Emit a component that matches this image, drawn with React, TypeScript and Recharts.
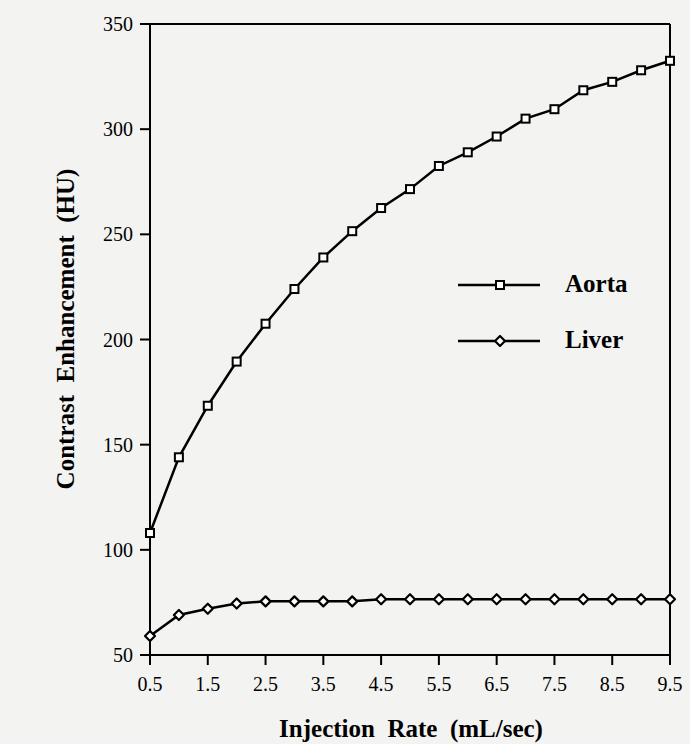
import { LineChart, Line, XAxis, YAxis, Legend, ReferenceLine, Label } from 'recharts'

const rates = [0.5, 1, 1.5, 2, 2.5, 3, 3.5, 4, 4.5, 5, 5.5, 6, 6.5, 7, 7.5, 8, 8.5, 9, 9.5]
const aorta = [108, 144, 168.5, 189.5, 207.5, 224, 239, 251.5, 262.5, 271.5, 282.5, 289, 296.5, 305, 309.5, 318.5, 322.5, 328, 332.5]
const liver = [59, 69, 72, 74.5, 75.5, 75.5, 75.5, 75.5, 76.5, 76.5, 76.5, 76.5, 76.5, 76.5, 76.5, 76.5, 76.5, 76.5, 76.5]

const xTicks = [0.5, 1.5, 2.5, 3.5, 4.5, 5.5, 6.5, 7.5, 8.5, 9.5]
const yTicks = [50, 100, 150, 200, 250, 300, 350]

const data = rates.map((r, i) => ({ rate: r, aorta: aorta[i], liver: liver[i] }))

const font = '"Liberation Serif", "Times New Roman", serif'

const Square = (props: any) => {
    const { cx, cy } = props
    if (cx == null || cy == null) return null
    return <rect x={cx - 4} y={cy - 4} width={8} height={8} fill="#fff" stroke="#000" strokeWidth={2} />
}

const Diamond = (props: any) => {
    const { cx, cy } = props
    if (cx == null || cy == null) return null
    return (
        <polygon
            points={`${cx},${cy - 5} ${cx + 5},${cy} ${cx},${cy + 5} ${cx - 5},${cy}`}
            fill="#fff"
            stroke="#000"
            strokeWidth={2.2}
            strokeLinejoin="round"
        />
    )
}

const XTick = (props: any) => {
    const { x, y, payload } = props
    return (
        <text x={x} y={y + 14} textAnchor="middle" fontFamily={font} fontSize={20} fill="#000">
            {payload.value}
        </text>
    )
}

const YTick = (props: any) => {
    const { x, y, payload } = props
    return (
        <text x={x} y={y + 7} textAnchor="end" fontFamily={font} fontSize={20} fill="#000">
            {payload.value}
        </text>
    )
}

const LegendBox = () => (
    <svg width={200} height={100} style={{ overflow: 'visible' }}>
        <line x1={8} x2={90} y1={25} y2={25} stroke="#000" strokeWidth={2.5} />
        <Square cx={50} cy={25} />
        <text x={115} y={32} fontFamily={font} fontWeight="bold" fontSize={25} fill="#000">Aorta</text>
        <line x1={8} x2={90} y1={81} y2={81} stroke="#000" strokeWidth={2.5} />
        <Diamond cx={50} cy={81} />
        <text x={115} y={88} fontFamily={font} fontWeight="bold" fontSize={25} fill="#000">Liver</text>
    </svg>
)

export default function App() {
    return (
        <div style={{ position: 'absolute', left: 0, top: 0, width: 690, height: 744, background: '#f3f3f1' }}>
            <LineChart width={690} height={744} data={data} margin={{ top: 24, right: 20, left: 0, bottom: 0 }}>
                <XAxis
                    dataKey="rate"
                    type="number"
                    domain={[0.5, 9.5]}
                    ticks={xTicks}
                    height={89}
                    stroke="#000"
                    strokeWidth={2}
                    tickSize={10}
                    tickMargin={12}
                    tick={<XTick />}
                >
                    <Label
                        content={() => (
                            <text x={411} y={737} textAnchor="middle" fontFamily={font} fontWeight="bold" fontSize={25} fill="#000">
                                Injection&#160; Rate&#160; (mL/sec)
                            </text>
                        )}
                    />
                </XAxis>
                <YAxis
                    type="number"
                    domain={[50, 350]}
                    ticks={yTicks}
                    width={150}
                    stroke="#000"
                    strokeWidth={2}
                    tickSize={10}
                    tickMargin={7}
                    tick={<YTick />}
                >
                    <Label
                        content={() => (
                            <text x={74} y={329} transform="rotate(-90 74 329)" textAnchor="middle" fontFamily={font} fontWeight="bold" fontSize={25} fill="#000">
                                Contrast&#160; Enhancement&#160; (HU)
                            </text>
                        )}
                    />
                </YAxis>
                <ReferenceLine y={350} stroke="#000" strokeWidth={2} />
                <ReferenceLine x={9.5} stroke="#000" strokeWidth={2} />
                <Legend
                    layout="horizontal"
                    verticalAlign="middle"
                    align="center"
                    wrapperStyle={{ left: 450, top: 260, width: 200 }}
                    content={() => <LegendBox />}
                />
                <Line dataKey="aorta" stroke="#000" strokeWidth={2.5} dot={<Square />} activeDot={false} isAnimationActive={false} />
                <Line dataKey="liver" stroke="#000" strokeWidth={2.5} dot={<Diamond />} activeDot={false} isAnimationActive={false} />
            </LineChart>
        </div>
    )
}
